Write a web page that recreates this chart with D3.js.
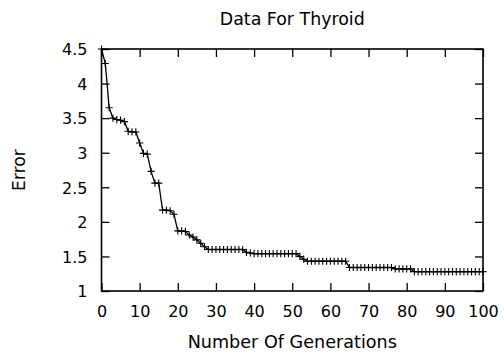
<!DOCTYPE html>
<html>
<head>
<meta charset="utf-8">
<script src="https://cdn.jsdelivr.net/npm/d3@7"></script>
<style>
  body { margin: 0; background: #fff; }
  text { font-family: "DejaVu Sans", sans-serif; fill: #000; }
</style>
</head>
<body>
<div id="chart-container"></div>
<script>
// chart data (error per generation, generation = index)
const titleText = "Data For Thyroid";
const xLabel = "Number Of Generations";
const yLabel = "Error";
const xTicks = [0, 10, 20, 30, 40, 50, 60, 70, 80, 90, 100];
const yTicks = [1, 1.5, 2, 2.5, 3, 3.5, 4, 4.5];
const errorValues = [
  4.50, 4.29, 3.65, 3.50, 3.48, 3.47, 3.45, 3.31, 3.30, 3.30,
  3.14, 2.99, 2.98, 2.73, 2.56, 2.56, 2.17, 2.17, 2.16, 2.11,
  1.87, 1.87, 1.86, 1.81, 1.78, 1.74, 1.69, 1.64, 1.60, 1.60,
  1.60, 1.60, 1.60, 1.60, 1.60, 1.60, 1.60, 1.60, 1.56, 1.55,
  1.54, 1.54, 1.54, 1.54, 1.54, 1.54, 1.54, 1.54, 1.54, 1.54,
  1.54, 1.54, 1.50, 1.46, 1.43, 1.43, 1.43, 1.43, 1.43, 1.43,
  1.43, 1.43, 1.43, 1.43, 1.43, 1.34, 1.34, 1.34, 1.34, 1.34,
  1.34, 1.34, 1.34, 1.34, 1.34, 1.34, 1.34, 1.32, 1.32, 1.32,
  1.32, 1.32, 1.28, 1.28, 1.28, 1.28, 1.28, 1.28, 1.28, 1.28,
  1.28, 1.28, 1.28, 1.28, 1.28, 1.28, 1.28, 1.28, 1.28, 1.28,
  1.28
];

// Set dimensions and margins for the chart
const margin = {top: 49, right: 21, bottom: 65, left: 101.5};
const width = 504 - margin.left - margin.right;
const height = 356 - margin.top - margin.bottom;

const xScale = d3.scaleLinear()
    .domain([0, 100])
    .range([0, width]);

const yScale = d3.scaleLinear()
    .domain([1, 4.5])
    .range([height, 0]);

const svg = d3.select("#chart-container")
    .append("svg")
        .attr("width", 504)
        .attr("height", 356)
    .append("g")
        .attr("transform", `translate(${margin.left},${margin.top})`);

// axes, ticks pointing inwards like gnuplot
const tickLen = 8;
const xAxisBottom = svg.append("g")
    .attr("transform", `translate(0,${height})`)
    .call(d3.axisBottom(xScale).tickValues(xTicks).tickSize(-tickLen).tickPadding(14).tickFormat(d3.format("d")));
const xAxisTop = svg.append("g")
    .call(d3.axisTop(xScale).tickValues(xTicks).tickSize(-tickLen).tickFormat(""));
const yAxisLeft = svg.append("g")
    .call(d3.axisLeft(yScale).tickValues(yTicks).tickSize(-tickLen).tickPadding(14).tickFormat(d => d3.format("")(d)));
const yAxisRight = svg.append("g")
    .attr("transform", `translate(${width},0)`)
    .call(d3.axisRight(yScale).tickValues(yTicks).tickSize(-tickLen).tickFormat(""));

[xAxisBottom, xAxisTop, yAxisLeft, yAxisRight].forEach(a => {
    a.select(".domain").remove();
    a.selectAll("line").attr("stroke", "#000").attr("stroke-width", 1.3);
    a.selectAll("text").attr("font-size", 16).attr("font-family", "DejaVu Sans").attr("fill", "#000");
});
yAxisLeft.selectAll("text").attr("dy", "0.36em");
xAxisBottom.selectAll("text").attr("dy", "0.72em");

// plot border
svg.append("rect")
    .attr("width", width)
    .attr("height", height)
    .attr("fill", "none")
    .attr("stroke", "#000")
    .attr("stroke-width", 1.6);

// the data line
const points = errorValues.map((v, i) => ({gen: i, err: v}));

const line = d3.line()
    .x(d => xScale(d.gen))
    .y(d => yScale(d.err));

svg.append("path")
    .datum(points)
    .attr("fill", "none")
    .attr("stroke", "#000")
    .attr("stroke-width", 1.3)
    .attr("d", line);

// "+" markers
const s = 3.6;
svg.selectAll("path.mark")
    .data(points)
    .join("path")
    .attr("class", "mark")
    .attr("fill", "none")
    .attr("stroke", "#000")
    .attr("stroke-width", 1.1)
    .attr("d", d => {
        const cx = xScale(d.gen), cy = yScale(d.err);
        return `M${cx - s},${cy}H${cx + s}M${cx},${cy - s}V${cy + s}`;
    });

// titles
svg.append("text")
    .attr("x", width / 2)
    .attr("y", -24)
    .attr("text-anchor", "middle")
    .attr("font-size", 17.4)
    .text(titleText);

svg.append("text")
    .attr("x", width / 2)
    .attr("y", height + 57)
    .attr("text-anchor", "middle")
    .attr("font-size", 17.6)
    .text(xLabel);

svg.append("text")
    .attr("transform", `translate(${-77},${height / 2}) rotate(-90)`)
    .attr("text-anchor", "middle")
    .attr("font-size", 17.2)
    .text(yLabel);
</script>
</body>
</html>
